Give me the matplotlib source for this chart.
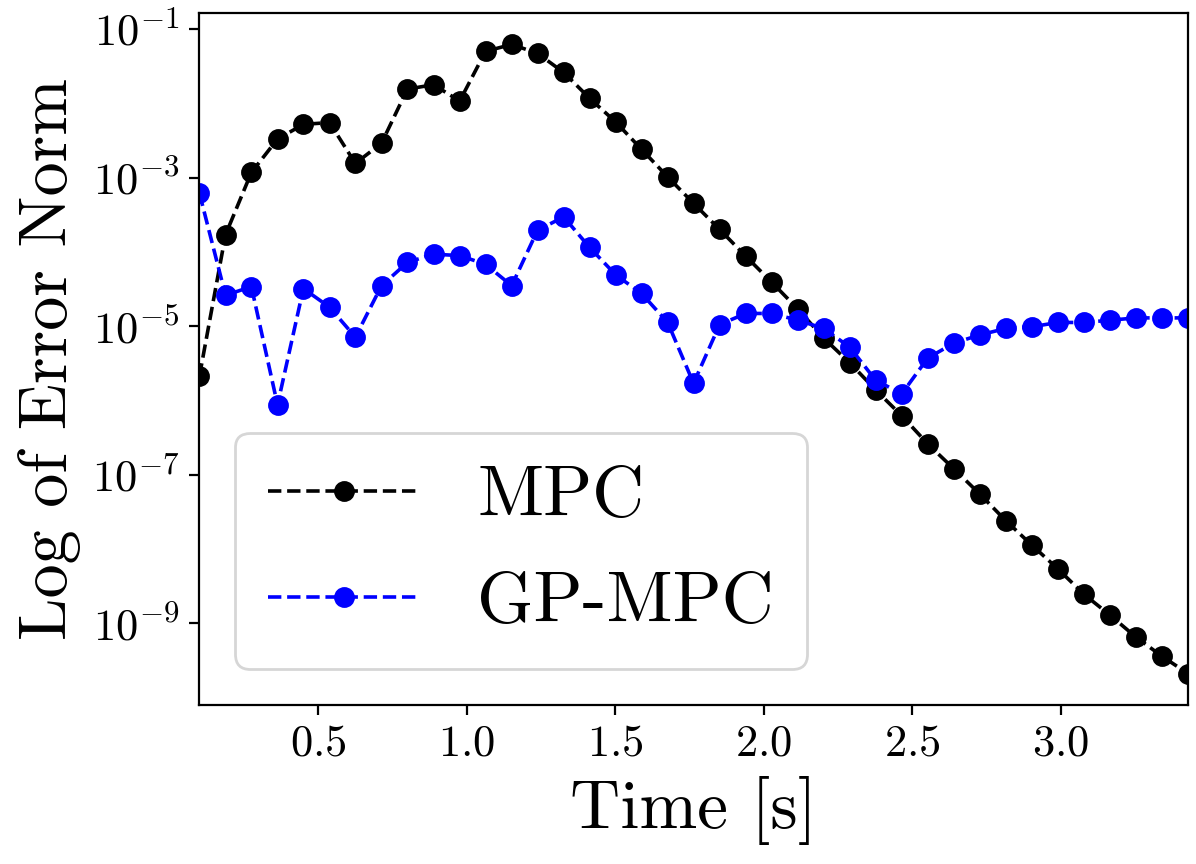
import matplotlib
matplotlib.use("Agg")
import matplotlib.pyplot as plt
from matplotlib.ticker import NullLocator

# ---- data ----
time_s = [0.101, 0.189, 0.276, 0.364, 0.451, 0.539, 0.626, 0.714, 0.801, 0.889,
          0.977, 1.064, 1.152, 1.239, 1.327, 1.414, 1.502, 1.589, 1.677, 1.764,
          1.852, 1.940, 2.027, 2.115, 2.202, 2.290, 2.377, 2.465, 2.552, 2.640,
          2.727, 2.815, 2.903, 2.990, 3.078, 3.165, 3.253, 3.340, 3.428]

mpc_err = [2.1e-6, 1.7e-4, 1.17e-3, 3.3e-3, 5.2e-3, 5.5e-3, 1.55e-3, 2.9e-3, 1.55e-2, 1.78e-2,
           1.07e-2, 5.0e-2, 6.2e-2, 4.7e-2, 2.6e-2, 1.17e-2, 5.6e-3, 2.4e-3, 1.02e-3, 4.5e-4,
           2.0e-4, 8.7e-5, 3.9e-5, 1.7e-5, 6.9e-6, 3.2e-6, 1.38e-6, 6.2e-7, 2.6e-7, 1.2e-7,
           5.5e-8, 2.4e-8, 1.12e-8, 5.4e-9, 2.45e-9, 1.29e-9, 6.5e-10, 3.6e-10, 2.1e-10]

gpmpc_err = [6.2e-4, 2.6e-5, 3.4e-5, 8.7e-7, 3.2e-5, 1.8e-5, 7.1e-6, 3.5e-5, 7.2e-5, 9.3e-5,
             8.9e-5, 6.8e-5, 3.5e-5, 1.95e-4, 2.95e-4, 1.15e-4, 4.9e-5, 2.75e-5, 1.12e-5, 1.7e-6,
             1.05e-5, 1.48e-5, 1.48e-5, 1.2e-5, 9.3e-6, 5.2e-6, 1.86e-6, 1.23e-6, 3.7e-6, 5.9e-6,
             7.6e-6, 9.3e-6, 9.8e-6, 1.12e-5, 1.12e-5, 1.2e-5, 1.29e-5, 1.29e-5, 1.29e-5]

series_labels = ["MPC", "GP-MPC"]
x_ticks = [0.5, 1.0, 1.5, 2.0, 2.5, 3.0]
y_ticks = [1e-9, 1e-7, 1e-5, 1e-3, 1e-1]

# ---- style ----
plt.rcParams["font.family"] = "serif"
plt.rcParams["font.serif"] = ["cmr10", "DejaVu Serif"]
plt.rcParams["mathtext.fontset"] = "cm"
plt.rcParams["axes.formatter.use_mathtext"] = True

fig = plt.figure(figsize=(5.98, 4.32), dpi=200)
ax = fig.add_axes([0.1667, 0.184, 0.8266, 0.801])

ax.plot(time_s, mpc_err, "o--", color="black", lw=1.3, markersize=6.5, label=series_labels[0])
ax.plot(time_s, gpmpc_err, "o--", color="blue", lw=1.3, markersize=6.5, label=series_labels[1])

ax.set_yscale("log")
ax.set_xlim(time_s[0], time_s[-1])
ax.set_xticks(x_ticks)
ax.set_yticks(y_ticks)
ax.yaxis.set_minor_locator(NullLocator())
ax.tick_params(axis="both", labelsize=16)

ax.set_xlabel("Time [s]", fontsize=25)
ax.set_ylabel("Log of Error Norm", fontsize=24.5)

ax.legend(loc="lower left", fontsize=26, labelspacing=0.57, borderpad=0.45,
          handlelength=2.1, handletextpad=0.8, borderaxespad=0.5)

fig.savefig("out.png", dpi=200)
